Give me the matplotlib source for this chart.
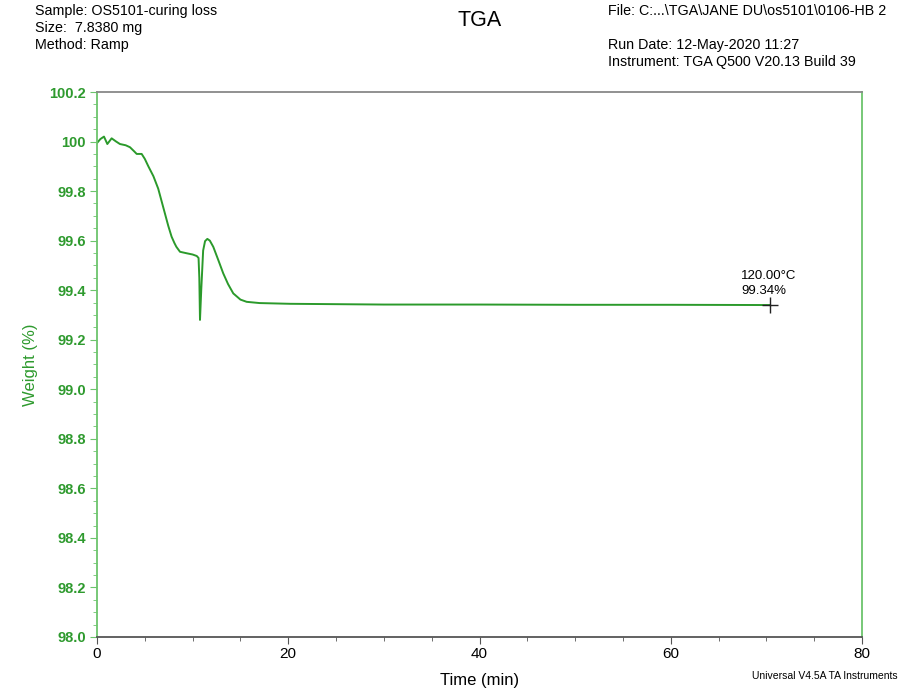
import matplotlib
import matplotlib.pyplot as plt
from matplotlib.ticker import MultipleLocator, FixedFormatter, FixedLocator
matplotlib.use('Agg')

plt.rcParams['font.family'] = ['Liberation Sans', 'DejaVu Sans']

# TGA weight curve
time_min = [0.0, 0.35, 0.73, 1.08, 1.53, 2.0, 2.4, 3.0, 3.45, 3.9, 4.15, 4.67, 5.0,
            5.37, 5.9, 6.4, 6.75, 7.1, 7.45, 7.8, 8.1, 8.3, 8.68, 9.38, 10.0, 10.43,
            10.62, 10.7, 10.77, 10.9, 11.1, 11.3, 11.54, 11.8, 12.16, 12.7, 13.2,
            13.7, 14.25, 15.0, 15.65, 17.0, 20.2, 30.0, 40.0, 50.0, 60.0, 70.38]
weight_pct = [99.994, 100.01, 100.02, 99.99, 100.013, 100.0, 99.99, 99.985, 99.977,
              99.96, 99.95, 99.95, 99.93, 99.90, 99.86, 99.81, 99.76, 99.71, 99.66,
              99.616, 99.59, 99.575, 99.555, 99.549, 99.544, 99.538, 99.53, 99.45,
              99.28, 99.40, 99.56, 99.598, 99.607, 99.60, 99.575, 99.52, 99.468,
              99.425, 99.387, 99.362, 99.353, 99.348, 99.345, 99.342, 99.342,
              99.341, 99.341, 99.34]

y_ticks = [98.0, 98.2, 98.4, 98.6, 98.8, 99.0, 99.2, 99.4, 99.6, 99.8, 100.0, 100.2]
y_labels = ["98.0", "98.2", "98.4", "98.6", "98.8", "99.0", "99.2", "99.4",
            "99.6", "99.8", "100", "100.2"]
x_ticks = [0, 20, 40, 60, 80]

line_green = "#2b9a2b"
axis_green = "#6cc46c"
label_green = "#2e9a2e"

fig = plt.figure(figsize=(9.01, 6.89), dpi=100)
ax = fig.add_axes([97 / 901, 1 - 637 / 689, (862 - 97) / 901, (637 - 92) / 689])

ax.plot(time_min, weight_pct, color=line_green, lw=1.4)
ax.plot([time_min[-1]], [weight_pct[-1]], marker="+", color="#222222",
        markersize=12, mew=1.0)
ax.text(time_min[-1] - 3.0, weight_pct[-1] + 0.105, "120.00°C", fontsize=9.5)
ax.text(time_min[-1] - 3.0, weight_pct[-1] + 0.045, "99.34%", fontsize=9.5)

ax.set_xlim(0, 80)
ax.set_ylim(98.0, 100.2)
ax.yaxis.set_major_locator(FixedLocator(y_ticks))
ax.yaxis.set_major_formatter(FixedFormatter(y_labels))
ax.yaxis.set_minor_locator(MultipleLocator(0.05))
ax.set_xticks(x_ticks)
ax.xaxis.set_minor_locator(MultipleLocator(5))

ax.tick_params(axis="y", which="major", length=5, color=axis_green,
               labelcolor=label_green, labelsize=10.5, pad=3)
ax.tick_params(axis="y", which="minor", length=3, color=axis_green)
ax.tick_params(axis="x", which="major", length=5, color="#555555", labelsize=11,
               pad=2)
ax.tick_params(axis="x", which="minor", length=3, color="#555555")
for lbl in ax.get_yticklabels():
    lbl.set_fontweight("bold")

ax.spines["left"].set_color(axis_green)
ax.spines["right"].set_color(axis_green)
ax.spines["top"].set_color("#888888")
ax.spines["bottom"].set_color("#555555")
for s in ax.spines.values():
    s.set_linewidth(1.3)

ax.set_ylabel("Weight (%)", color=label_green, fontsize=12, labelpad=8)
ax.set_xlabel("Time (min)", fontsize=12, labelpad=9)

fig.text(35 / 901, 1 - 11 / 689, "Sample: OS5101-curing loss", fontsize=10.3, va="center")
fig.text(35 / 901, 1 - 28 / 689, "Size:  7.8380 mg", fontsize=10.3, va="center")
fig.text(35 / 901, 1 - 45 / 689, "Method: Ramp", fontsize=10.3, va="center")
fig.text(480 / 901, 1 - 20 / 689, "TGA", fontsize=15.5, ha="center", va="center")
fig.text(608 / 901, 1 - 11 / 689, "File: C:...\\TGA\\JANE DU\\os5101\\0106-HB 2",
         fontsize=10.3, va="center")
fig.text(608 / 901, 1 - 45 / 689, "Run Date: 12-May-2020 11:27", fontsize=10.3, va="center")
fig.text(608 / 901, 1 - 62 / 689, "Instrument: TGA Q500 V20.13 Build 39",
         fontsize=10.3, va="center")
fig.text(898 / 901, 1 - 676 / 689, "Universal V4.5A TA Instruments", fontsize=7.5,
         ha="right", va="center")

plt.savefig("out.png", dpi=100)
